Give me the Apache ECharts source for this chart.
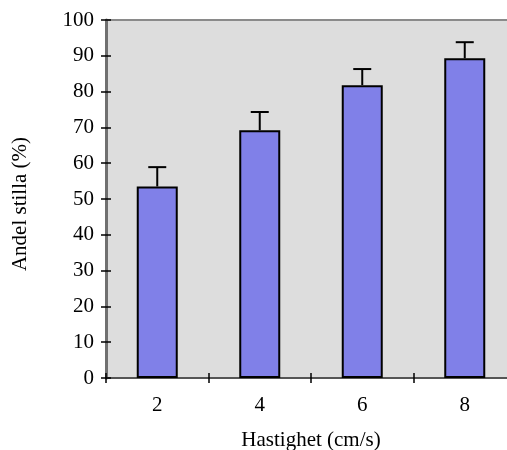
<!DOCTYPE html>
<html>
<head>
<meta charset="utf-8">
<script src="https://cdn.jsdelivr.net/npm/echarts@6/dist/echarts.min.js"></script>
<style>
  html, body { margin: 0; padding: 0; background: #fff; }
  #chart { width: 507px; height: 450px; }
</style>
</head>
<body>
<div id="chart"></div>
<script>
// data
var speeds = ['2', '4', '6', '8'];          // Hastighet (cm/s)
var stillShare = [53.5, 69.2, 81.8, 89.3];  // Andel stilla (%)
var errUp = [5.4, 5.1, 4.5, 4.5];           // upper error bar
var yTicks = { min: 0, max: 100, step: 10 };

var font = 'Liberation Serif';

var chart = echarts.init(document.getElementById('chart'));

var option = {
  animation: false,
  grid: {
    left: 106,
    top: 20,
    bottom: 72,
    width: 410,   // plot runs past the right edge, as in the original
    outerBoundsMode: 'none',
    containLabel: false,
    show: true,
    backgroundColor: '#DDDDDD',
    borderColor: '#8a8a8a',
    borderWidth: 2
  },
  xAxis: [
    {
      type: 'category',
      data: speeds,
      name: 'Hastighet (cm/s)',
      nameLocation: 'middle',
      nameGap: 52,
      nameTextStyle: { fontFamily: font, fontSize: 21, color: '#000' },
      axisLine: { lineStyle: { color: '#555', width: 2 } },
      axisTick: { show: true, length: 5, lineStyle: { color: '#000', width: 1.5 } },
      axisLabel: { fontFamily: font, fontSize: 21, color: '#000', margin: 17 }
    },
    {
      // inner half of the crossing ticks
      type: 'category',
      data: speeds,
      position: 'bottom',
      axisLine: { show: false },
      axisTick: { show: true, inside: true, length: 5, lineStyle: { color: '#000', width: 1.5 } },
      axisLabel: { show: false }
    }
  ],
  yAxis: [
    {
      type: 'value',
      min: yTicks.min,
      max: yTicks.max,
      interval: yTicks.step,
      name: 'Andel stilla (%)',
      nameLocation: 'middle',
      nameGap: 75,
      nameTextStyle: { fontFamily: font, fontSize: 21, color: '#000', padding: [0, 10, 0, 0] },
      axisLine: { show: true, lineStyle: { color: '#707070', width: 3 } },
      axisTick: { show: true, length: 5, lineStyle: { color: '#000', width: 1.5 } },
      axisLabel: { fontFamily: font, fontSize: 21, color: '#000', margin: 12 },
      splitLine: { show: false }
    },
    {
      type: 'value',
      position: 'left',
      min: yTicks.min,
      max: yTicks.max,
      interval: yTicks.step,
      axisLine: { show: false },
      axisTick: { show: true, inside: true, length: 5, lineStyle: { color: '#000', width: 1.5 } },
      axisLabel: { show: false },
      splitLine: { show: false }
    }
  ],
  series: [
    {
      type: 'bar',
      data: stillShare,
      barWidth: 41,
      itemStyle: { color: '#8080E8', borderColor: '#000', borderWidth: 2 }
    },
    {
      type: 'custom',
      data: stillShare.map(function (v, i) { return [i, v, v + errUp[i]]; }),
      z: 3,
      renderItem: function (params, api) {
        var lo = api.coord([api.value(0), api.value(1)]);
        var hi = api.coord([api.value(0), api.value(2)]);
        var half = 9;
        return {
          type: 'group',
          children: [
            {
              type: 'line',
              shape: { x1: lo[0], y1: lo[1], x2: hi[0], y2: hi[1] },
              style: { stroke: '#000', lineWidth: 2 }
            },
            {
              type: 'line',
              shape: { x1: hi[0] - half, y1: hi[1], x2: hi[0] + half, y2: hi[1] },
              style: { stroke: '#000', lineWidth: 2 }
            }
          ]
        };
      }
    }
  ]
};

chart.setOption(option);
</script>
</body>
</html>
